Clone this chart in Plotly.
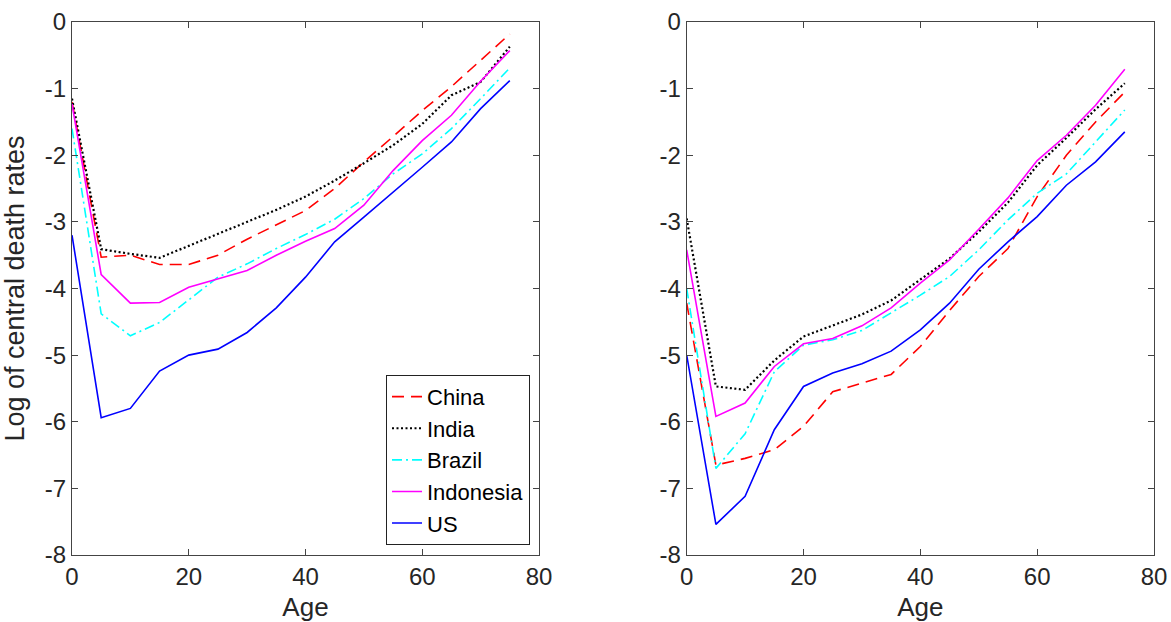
import plotly.graph_objects as go

ages = [0, 5, 10, 15, 20, 25, 30, 35, 40, 45, 50, 55, 60, 65, 70, 75]
countries = ["China", "India", "Brazil", "Indonesia", "US"]

# Left panel
china_l = [-1.20, -3.53, -3.50, -3.64, -3.64, -3.50, -3.26, -3.04, -2.83, -2.50, -2.10, -1.72, -1.33, -0.97, -0.58, -0.18]
india_l = [-1.15, -3.41, -3.48, -3.54, -3.36, -3.18, -3.00, -2.82, -2.62, -2.38, -2.12, -1.85, -1.53, -1.10, -0.90, -0.37]
brazil_l = [-1.60, -4.38, -4.71, -4.51, -4.17, -3.83, -3.63, -3.40, -3.19, -2.96, -2.65, -2.28, -1.98, -1.60, -1.15, -0.69]
indonesia_l = [-1.23, -3.79, -4.22, -4.21, -3.98, -3.86, -3.73, -3.50, -3.29, -3.10, -2.75, -2.23, -1.78, -1.40, -0.89, -0.43]
us_l = [-3.20, -5.94, -5.80, -5.24, -5.00, -4.91, -4.66, -4.29, -3.83, -3.30, -2.93, -2.56, -2.18, -1.80, -1.30, -0.88]

# Right panel
china_r = [-4.22, -6.65, -6.55, -6.42, -6.07, -5.55, -5.42, -5.29, -4.87, -4.33, -3.82, -3.40, -2.62, -2.00, -1.50, -1.05]
india_r = [-2.95, -5.47, -5.52, -5.08, -4.72, -4.56, -4.39, -4.18, -3.87, -3.55, -3.15, -2.71, -2.15, -1.74, -1.31, -0.92]
brazil_r = [-4.00, -6.70, -6.18, -5.25, -4.85, -4.77, -4.63, -4.37, -4.10, -3.82, -3.42, -2.97, -2.57, -2.28, -1.80, -1.32]
indonesia_r = [-3.42, -5.92, -5.72, -5.17, -4.83, -4.75, -4.56, -4.29, -3.92, -3.57, -3.11, -2.64, -2.08, -1.70, -1.25, -0.71]
us_r = [-5.00, -7.54, -7.12, -6.12, -5.47, -5.27, -5.13, -4.94, -4.62, -4.22, -3.71, -3.30, -2.92, -2.45, -2.10, -1.65]

xticks = [0, 20, 40, 60, 80]
yticks = [0, -1, -2, -3, -4, -5, -6, -7, -8]
ytick_text = ["0", "-1", "-2", "-3", "-4", "-5", "-6", "-7", "-8"]

colors = ["#FF0000", "#000000", "#00FFFF", "#FF00FF", "#0000FF"]
dashes = ["12px,7px", "2px,2.5px", "10px,4px,2px,4px", "solid", "solid"]
widths = [1.6, 2.2, 1.6, 1.6, 1.6]

left = [china_l, india_l, brazil_l, indonesia_l, us_l]
right = [china_r, india_r, brazil_r, indonesia_r, us_r]

FONT = "Liberation Sans, Arial, sans-serif"

fig = go.Figure()
for i, name in enumerate(countries):
    fig.add_trace(go.Scatter(
        x=ages, y=left[i], mode="lines", name=name,
        line=dict(color=colors[i], dash=dashes[i], width=widths[i]),
        xaxis="x", yaxis="y", showlegend=True))
for i, name in enumerate(countries):
    fig.add_trace(go.Scatter(
        x=ages, y=right[i], mode="lines", name=name,
        line=dict(color=colors[i], dash=dashes[i], width=widths[i]),
        xaxis="x2", yaxis="y2", showlegend=False))

axis_common = dict(
    showgrid=False, zeroline=False, showline=True, linecolor="#444444",
    linewidth=1, mirror="ticks", ticks="inside", ticklen=6, automargin=False,
    tickcolor="#444444", tickfont=dict(family=FONT, size=24, color="#262626"),
)

fig.update_layout(
    width=1171, height=622,
    margin=dict(l=72, r=17, t=22, b=67, autoexpand=False),
    paper_bgcolor="white", plot_bgcolor="white",
    font=dict(family=FONT, size=24, color="#262626"),
    xaxis=dict(domain=[0, 0.4316], range=[0, 80], tickvals=xticks,
               title=dict(text="Age", font=dict(size=26)), **axis_common),
    yaxis=dict(domain=[0, 1], range=[-8, 0], tickvals=yticks, ticktext=ytick_text,
               title=dict(text="Log of central death rates", font=dict(size=27)),
               **axis_common),
    xaxis2=dict(domain=[0.5681, 1], range=[0, 80], tickvals=xticks, anchor="y2",
                title=dict(text="Age", font=dict(size=26)), **axis_common),
    yaxis2=dict(domain=[0, 1], range=[-8, 0], tickvals=yticks, ticktext=ytick_text,
                anchor="x2", **axis_common),
    legend=dict(x=0.4233, y=0.019, xanchor="right", yanchor="bottom",
                bgcolor="white", bordercolor="#222222", borderwidth=1,
                font=dict(family=FONT, size=22, color="#000000"),
                itemwidth=30),
)

fig.write_html(
    "out.html",
    config={"displayModeBar": False},
    post_script="document.body.style.margin='0';document.body.style.overflow='hidden';",
)
